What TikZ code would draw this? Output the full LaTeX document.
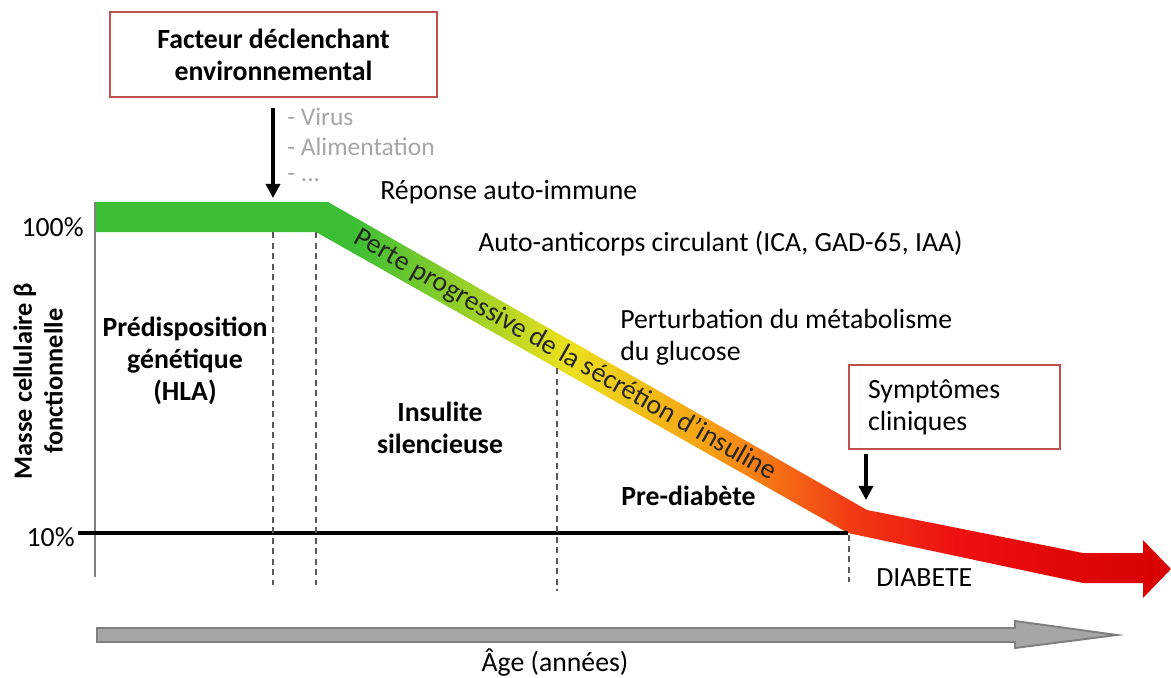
\documentclass[tikz,border=0pt]{standalone}
\usepackage{fontspec}
\setmainfont{Carlito}
\usepackage[]{xcolor}
\usepackage{tikz}
\usetikzlibrary{arrows.meta}

\definecolor{boxred}{RGB}{192,80,77}
\definecolor{listgray}{RGB}{166,166,166}
\definecolor{agegray}{RGB}{166,166,166}
\definecolor{agerim}{RGB}{127,127,127}
\definecolor{grA}{RGB}{60,190,52}
\definecolor{ylA}{RGB}{236,224,30}
\definecolor{orA}{RGB}{246,160,20}
\definecolor{rdA}{RGB}{242,60,20}
\definecolor{rdB}{RGB}{238,16,16}
\definecolor{rdC}{RGB}{215,0,0}

\pgfdeclarehorizontalshading{betagrad}{100bp}{color(0bp)=(grA); color(37bp)=(grA);
  color(47bp)=(ylA); color(53.5bp)=(orA); color(60bp)=(rdA); color(65bp)=(rdB);
  color(75bp)=(rdC); color(100bp)=(rdC)}

\tikzset{
  txt/.style={font=\fontsize{15.8}{18.3}\selectfont, inner sep=0pt},
  small/.style={font=\fontsize{14.5}{17}\selectfont, inner sep=0pt},
  bold/.style={txt, font=\fontsize{15.8}{18.3}\selectfont\bfseries, align=center},
  redbox/.style={draw=boxred, line width=0.9pt, inner sep=0pt},
  phase/.style={draw=black!65, line width=0.6pt, dash pattern=on 3.5pt off 2.5pt},
  push/.style={line width=2.2pt, -{Triangle[length=8pt,width=8pt]}},
}

\begin{document}
\begin{tikzpicture}[x=0.02cm,y=-0.02cm]
        \useasboundingbox (0,0) rectangle (1171,677);
        % boxes and arrows on top
        \node[redbox, bold, minimum width=6.54cm, minimum height=1.7cm] (facteur) at (273.5,54.5)
             {Facteur déclenchant\\environnemental};
        \coordinate (trig) at (273,108);
        \coordinate (hit) at (273,198);
        \draw[push] (trig) -- (hit);
        \node[small, anchor=west, text=listgray] (virus) at (287,117) {- Virus};
        \node[small, anchor=west, text=listgray] (alim)  at (287,147) {- Alimentation};
        \node[small, anchor=west, text=listgray] (etc)   at (287,178) {- ...};

        % the beta cell curve
        \shade[shading=betagrad] (95,202) -- (328,202) -- (867,510) -- (1083,553) -- (1143,553)
             -- (1143,540) -- (1171,569) -- (1143,598) -- (1143,583) -- (1083,583)
             -- (848,533) -- (316,232) -- (95,232) -- cycle;
        \node[txt, rotate=-29.7, text=black!85] (perte) at (565,355)
             {Perte progressive de la sécrétion d’insuline};

        % axes
        \draw[black!50, line width=0.8pt] (95,202) -- (95,577);
        \draw[line width=2.8pt] (78,533) -- (848,533);
        \node[txt, anchor=east] (cent) at (84,227) {100\%};
        \node[txt, anchor=east] (dix)  at (75,537) {10\%};
        \node[bold, font=\fontsize{15}{17.5}\selectfont\bfseries, rotate=90] (masse) at (38,381)
             {Masse cellulaire β\\fonctionnelle};

        % phases
        \draw[phase] (273,232) -- (273,585);
        \draw[phase] (316,232) -- (316,585);
        \draw[phase] (557,368) -- (557,591);
        \draw[phase] (849,535) -- (849,582);
        \node[bold] (predis) at (185,361) {Prédisposition\\génétique\\(HLA)};
        \node[bold] (insul)  at (440,428) {Insulite\\silencieuse};
        \node[bold, anchor=west] (prediab) at (621,496) {Pre-diabète};
        \node[txt, anchor=west] (diab) at (876,578) {DIABETE};

        % events
        \node[txt, anchor=west] (reponse) at (380,192) {Réponse auto-immune};
        \node[txt, anchor=west] (anticorps) at (478,244) {Auto-anticorps circulant (ICA, GAD-65, IAA)};
        \node[txt, anchor=west, align=left] (glucose) at (620,337) {Perturbation du métabolisme\\du glucose};
        \node[redbox, txt, draw=boxred, align=left, minimum width=4.22cm, minimum height=1.68cm,
              text width=3.46cm, inner xsep=0.38cm] (sympt) at (954.5,407) {Symptômes\\cliniques};
        \coordinate (symtop) at (866,454);
        \coordinate (symhit) at (866,500);
        \draw[push] (symtop) -- (symhit);

        % age axis
        \filldraw[fill=agegray, draw=agerim, line width=1.1pt] (97,628) -- (1015,628) -- (1015,621)
             -- (1117,635) -- (1015,648) -- (1015,642) -- (97,642) -- cycle;
        \node[txt] (age) at (555,663) {Âge (années)};
\end{tikzpicture}
\end{document}
